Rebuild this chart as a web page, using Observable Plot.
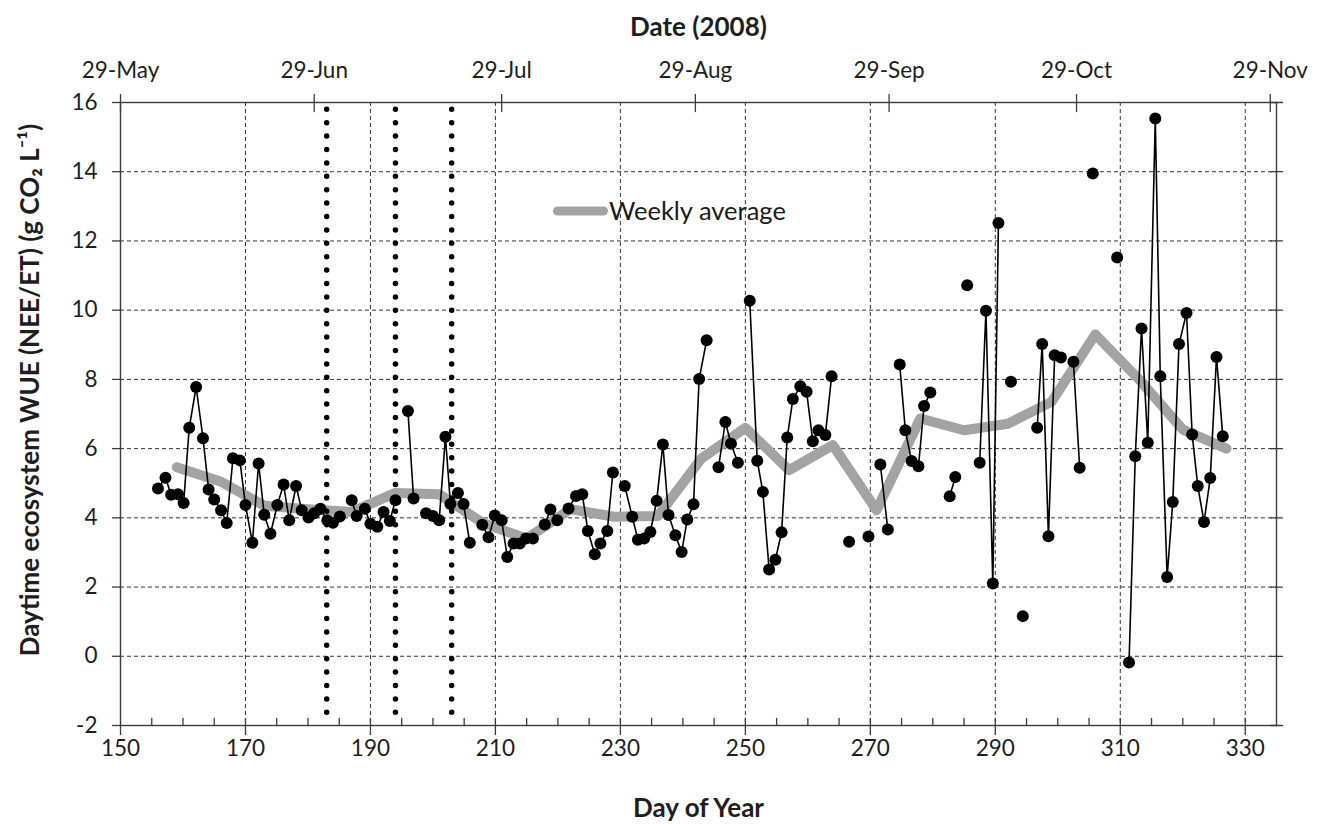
<!DOCTYPE html>
<html><head><meta charset="utf-8">
<script src="https://cdn.jsdelivr.net/npm/d3@7"></script>
<script src="https://cdn.jsdelivr.net/npm/@observablehq/plot@0.6"></script>
<style>
body{margin:0;background:#fff;}
#wrap{position:relative;width:1320px;height:824px;}
#legend{position:absolute;left:549px;top:195px;display:flex;align-items:center;font-family:Lato,sans-serif;font-size:25.5px;color:#1a1a1a;line-height:31px;}
#legend svg{display:block;}
</style></head><body>
<div id="wrap"></div>
<script>
// ---- data ----
const dailyDay = [156.0,157.2,158.1,159.2,160.1,161.0,162.1,163.2,164.1,165.0,166.1,167.0,168.0,169.1,170.0,171.1,172.1,173.0,174.0,175.1,176.1,177.0,178.1,179.0,180.1,181.0,182.0,183.1,184.0,185.1,
187.0,187.8,189.1,190.0,191.1,192.1,193.1,194.0,
196.0,196.9,
198.9,200.0,201.0,202.0,202.8,204.0,204.9,205.9,
207.9,208.9,209.9,211.0,211.9,212.9,213.9,214.9,216.0,
217.9,218.8,219.9,
221.7,222.9,223.9,224.8,225.9,226.8,227.9,228.8,
230.7,231.9,232.8,233.8,234.8,235.8,236.8,237.7,238.8,239.8,240.7,241.7,242.6,243.8,
245.7,246.8,247.7,248.8,
250.7,251.9,252.8,253.8,254.8,255.8,256.7,257.6,258.8,259.8,260.8,261.7,262.8,263.8,
266.6,269.7,
271.6,272.8,
274.7,275.6,276.6,277.7,278.6,279.6,
282.7,283.6,
285.5,
287.5,288.5,289.6,290.5,
292.5,294.4,
296.7,297.5,298.5,299.5,300.5,
302.5,303.5,
305.6,309.5,
311.4,312.4,313.4,314.4,315.6,316.4,317.5,318.4,319.4,320.6,321.5,322.4,323.4,324.4,325.4,326.4];
const dailyWUE = [4.85,5.16,4.67,4.68,4.43,6.60,7.78,6.30,4.82,4.53,4.22,3.85,5.72,5.66,4.37,3.28,5.57,4.09,3.54,4.37,4.96,3.93,4.92,4.22,4.01,4.13,4.26,3.92,3.86,4.04,
4.51,4.05,4.26,3.83,3.74,4.17,3.91,4.51,
7.09,4.56,
4.13,4.05,3.93,6.34,4.40,4.72,4.40,3.28,
3.80,3.44,4.07,3.93,2.87,3.26,3.26,3.40,3.40,
3.81,4.24,3.93,
4.27,4.63,4.68,3.62,2.95,3.26,3.62,5.31,
4.92,4.03,3.37,3.40,3.59,4.49,6.12,4.08,3.50,3.01,3.95,4.39,8.01,9.13,
5.46,6.77,6.14,5.59,
10.27,5.65,4.75,2.51,2.79,3.58,6.32,7.43,7.80,7.64,6.21,6.53,6.39,8.09,
3.31,3.46,
5.54,3.66,
8.43,6.53,5.64,5.49,7.23,7.62,
4.62,5.18,
10.72,
5.59,9.98,2.10,12.52,
7.93,1.16,
6.60,9.02,3.47,8.70,8.63,
8.51,5.45,
13.95,11.52,
-0.18,5.78,9.47,6.17,15.54,8.09,2.29,4.46,9.02,9.92,6.41,4.92,3.88,5.15,8.65,6.36];

const weeklyDay = [159,166,173,180,187,194,201,208,215,222,229,236,243,250,257,264,271,278,285,292,299,306,313,320,327];
const weeklyWUE = [5.46,5.05,4.35,4.25,4.17,4.72,4.68,3.85,3.40,4.25,4.03,4.05,5.72,6.60,5.38,6.10,4.22,6.87,6.53,6.72,7.35,9.30,8.00,6.55,6.00];

const eventDays = [183, 194, 203];

const dayTicks = [150,170,190,210,230,250,270,290,310,330];
const dayGridTicks = [170,190,210,230,250,270,290,310,330];
const minorDayTicks = [155,160,165,170,175,180,185,190,195,200,205,210,215,220,225,230,235,240,245,250,255,260,265,270,275,280,285,290,295,300,305,310,315,320,325,330];
const wueTicks = [-2,0,2,4,6,8,10,12,14,16];
const wueGridTicks = [0,2,4,6,8,10,12,14];
const dateTickDays = [150,181,211,242,273,303,334];
const dateTickLabels = ["29-May","29-Jun","29-Jul","29-Aug","29-Sep","29-Oct","29-Nov"];

const xTitle = "Day of Year";
const topTitle = "Date (2008)";
const yTitle = "Daytime ecosystem WUE (NEE/ET) (g CO\u2082 L\u207B\u00B9)";
const legendLabel = "Weekly average";

// ---- build tables ----
let seg = 0;
const daily = dailyDay.map((d, i) => {
  if (i > 0 && d - dailyDay[i - 1] > 1.5) seg++;
  return {day: d, wue: dailyWUE[i], seg};
});
const weekly = weeklyDay.map((d, i) => ({day: d, wue: weeklyWUE[i]}));
const dateLabel = new Map(dateTickDays.map((d, i) => [d, dateTickLabels[i]]));

const tickShape = {draw(context, l) { context.moveTo(0, 0); context.lineTo(0, -l); }};
const axisColor = "#3c3c3c";

const chart = Plot.plot({
  width: 1320, height: 824,
  marginLeft: 120, marginRight: 44, marginTop: 102, marginBottom: 99,
  x: {domain: [150, 335]},
  y: {domain: [-2, 16]},
  style: {fontFamily: "Lato, sans-serif", fontSize: "22.5px", color: "#1e1e1e", background: "white", overflow: "visible"},
  marks: [
    Plot.gridX({ticks: dayGridTicks, stroke: "#1e1e1e", strokeOpacity: 0.9, strokeWidth: 1, strokeDasharray: "4,3"}),
    Plot.gridY({ticks: wueGridTicks, stroke: "#1e1e1e", strokeOpacity: 0.9, strokeWidth: 1, strokeDasharray: "4,3"}),
    Plot.frame({stroke: axisColor, strokeWidth: 1.4}),
    Plot.axisX({anchor: "bottom", ticks: dayTicks, tickFormat: d => String(d), tickSize: 10, tickPadding: 5, label: null, stroke: axisColor, strokeWidth: 1.3}),
    Plot.vector(minorDayTicks, {x: d => d, frameAnchor: "bottom", length: 7, rotate: 0, anchor: "start", shape: tickShape, stroke: axisColor, strokeWidth: 1.3}),
    Plot.axisX({anchor: "top", ticks: dateTickDays, tickFormat: d => dateLabel.get(d), tickSize: 9, tickPadding: 16, label: null, stroke: axisColor, strokeWidth: 1.3}),
    Plot.vector(dateTickDays, {x: d => d, frameAnchor: "top", length: 9, rotate: 180, anchor: "start", shape: tickShape, stroke: axisColor, strokeWidth: 1.3}),
    Plot.axisY({anchor: "left", ticks: wueTicks, tickFormat: d => String(d), tickSize: 8, tickPadding: 15, label: null, stroke: axisColor, strokeWidth: 1.3}),
    Plot.vector(wueTicks, {y: d => d, frameAnchor: "right", length: 6, rotate: 90, anchor: "start", shape: tickShape, stroke: axisColor, strokeWidth: 1.3}),
    Plot.vector(wueTicks, {y: d => d, frameAnchor: "right", length: 6, rotate: -90, anchor: "start", shape: tickShape, stroke: axisColor, strokeWidth: 1.3}),
    Plot.line(weekly, {x: "day", y: "wue", stroke: "#a3a3a3", strokeWidth: 10, strokeLinecap: "round", strokeLinejoin: "round"}),
    Plot.ruleX(eventDays, {x: d => d, stroke: "black", strokeWidth: 5.5, strokeDasharray: "0,13.4", strokeDashoffset: 6.1, strokeLinecap: "round"}),
    Plot.line(daily, {x: "day", y: "wue", z: "seg", stroke: "black", strokeWidth: 1.6}),
    Plot.dot(daily, {x: "day", y: "wue", r: 6, fill: "black", stroke: "none"}),
    Plot.text([xTitle], {text: d => d, frameAnchor: "bottom", dy: 83, fontWeight: "bold", fontSize: 26, lineAnchor: "middle"}),
    Plot.text([topTitle], {text: d => d, frameAnchor: "top", dy: -75, fontWeight: "bold", fontSize: 26, lineAnchor: "middle"}),
    Plot.text([yTitle], {text: d => d, frameAnchor: "left", dx: -90, dy: -24, rotate: -90, textAnchor: "middle", fontWeight: "bold", fontSize: 26, lineAnchor: "middle"})
  ]
});

const wrap = document.getElementById("wrap");
wrap.appendChild(chart);

// legend (inside plot area, as in the reference)
const legend = document.createElement("div");
legend.id = "legend";
legend.innerHTML = `<svg width="60" height="14"><line x1="8.5" y1="7" x2="54.5" y2="7" stroke="#a3a3a3" stroke-width="9" stroke-linecap="round"/></svg><span>${legendLabel}</span>`;
wrap.appendChild(legend);
</script>
</body></html>
